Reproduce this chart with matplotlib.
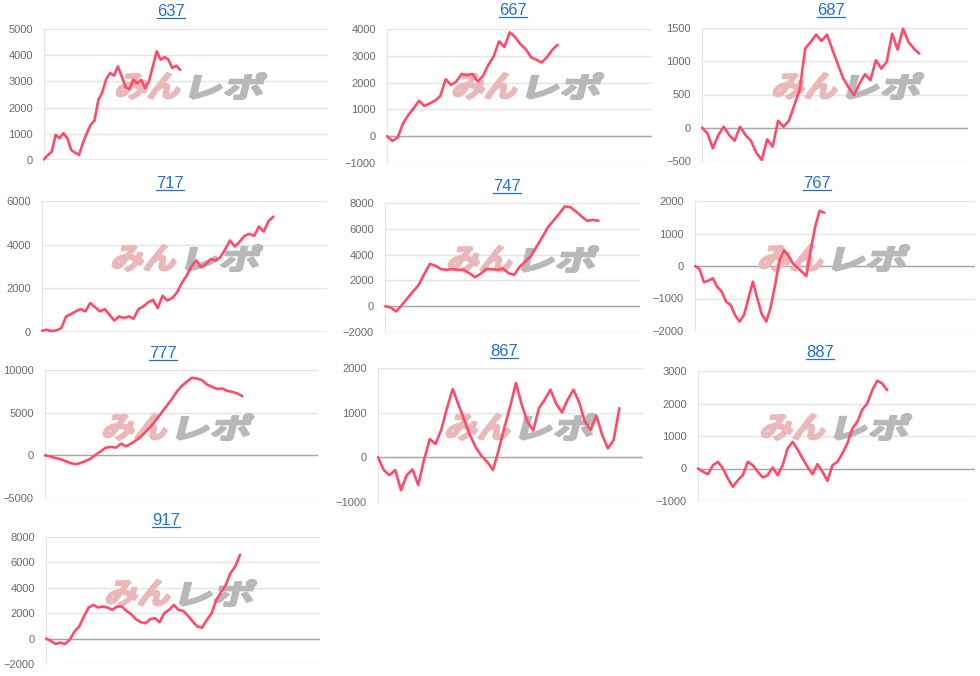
import numpy as np
import matplotlib.pyplot as plt
from matplotlib.textpath import TextPath
from matplotlib.font_manager import FontProperties
from matplotlib.patches import PathPatch
from matplotlib.transforms import Affine2D, IdentityTransform
from matplotlib.lines import Line2D

# --- data ---------------------------------------------------------------
titles = ['637', '667', '687', '717', '747', '767', '777', '867', '887', '917']

s637 = [25, 190, 320, 960, 830, 1020, 830, 380, 280, 190, 640, 1020, 1340, 1510,
        2300, 2580, 3090, 3320, 3220, 3570, 3190, 2780, 2700, 3060, 2930, 3060,
        2740, 3000, 3570, 4150, 3830, 3930, 3830, 3510, 3600, 3440]
s667 = [0, -175, -50, 475, 790, 1040, 1325, 1125, 1225, 1325, 1500, 2125, 1910,
        2040, 2325, 2275, 2325, 2040, 2250, 2660, 2975, 3540, 3325, 3875, 3700,
        3440, 3250, 2950, 2850, 2750, 2950, 3225, 3410]
s687 = [0, -85, -310, -110, 15, -110, -195, 15, -110, -195, -375, -485, -175,
        -285, 105, 15, 105, 340, 575, 1190, 1290, 1400, 1305, 1400, 1175, 955,
        740, 605, 490, 665, 805, 715, 1015, 890, 990, 1415, 1175, 1490, 1290,
        1190, 1115]
s717 = [60, 105, 45, 75, 180, 715, 820, 945, 1050, 945, 1325, 1140, 945, 1050,
        790, 520, 715, 640, 715, 610, 1050, 1170, 1355, 1475, 1095, 1660, 1445,
        1555, 1810, 2240, 2575, 3000, 3275, 2970, 3110, 3335, 3275, 3425, 3790,
        4190, 3915, 4140, 4400, 4495, 4400, 4830, 4600, 5085, 5285]
s747 = [0, -100, -410, 100, 620, 1140, 1650, 2500, 3280, 3130, 2870, 2820, 2870,
        2820, 2820, 2560, 2250, 2500, 2870, 2870, 2820, 2920, 2560, 2430, 3075,
        3460, 3900, 4625, 5350, 6120, 6640, 7160, 7730, 7675, 7340, 6950, 6615,
        6690, 6615]
s767 = [0, -90, -500, -450, -380, -640, -790, -1100, -1200, -1510, -1710, -1510,
        -1000, -480, -1000, -1480, -1710, -1270, -585, 185, 490, 310, 80, -50,
        -175, -310, 490, 1210, 1700, 1640]
s777 = [0, -120, -310, -430, -670, -900, -1060, -900, -670, -390, 80, 470, 900,
        980, 900, 1370, 1060, 1370, 1760, 2230, 2820, 3450, 4190, 4975, 5760,
        6540, 7440, 8110, 8620, 9090, 9010, 8810, 8300, 8030, 7760, 7830, 7560,
        7440, 7250, 6930]
s867 = [0, -285, -400, -285, -735, -400, -270, -620, -60, 410, 300, 615, 1100,
        1530, 1180, 840, 500, 225, 30, -100, -285, 165, 675, 1140, 1665, 1180,
        800, 600, 1100, 1290, 1515, 1200, 1005, 1290, 1515, 1230, 800, 615, 930,
        500, 200, 390, 1100]
s887 = [0, -100, -175, 100, 205, 0, -310, -565, -360, -205, 205, 100, -100, -275,
        -205, 30, -205, 100, 615, 820, 585, 310, 50, -175, 135, -100, -380, 100,
        205, 460, 770, 1230, 1435, 1815, 2000, 2410, 2700, 2615, 2410]
s917 = [0, -185, -420, -315, -420, -105, 550, 945, 1735, 2445, 2655, 2445, 2525,
        2445, 2260, 2525, 2525, 2180, 1920, 1525, 1290, 1210, 1525, 1605, 1290,
        2000, 2260, 2655, 2260, 2180, 1790, 1340, 945, 870, 1475, 2000, 3050,
        3655, 4235, 5155, 5680, 6600]

series = [s637, s667, s687, s717, s747, s767, s777, s867, s887, s917]

# y axis ranges (min, max, step)
yranges = [(0, 5000, 1000), (-1000, 4000, 1000), (-500, 1500, 500),
           (0, 6000, 2000), (-2000, 8000, 2000), (-2000, 2000, 1000),
           (-5000, 10000, 5000), (-1000, 2000, 1000), (-1000, 3000, 1000),
           (-2000, 8000, 2000)]

# --- layout (pixels, from top-left) --------------------------------------
W, H = 980, 676
boxes = [(44, 29, 328, 160), (387, 29, 652, 163), (702, 28, 968, 161),
         (42, 201, 327, 332), (385, 203, 640, 332), (695, 201, 975, 331),
         (45, 370, 318, 498), (378, 368, 643, 502), (698, 371, 975, 501),
         (46, 537, 320, 664)]
# how far along the x axis each line runs
x_frac = [0.479, 0.644, 0.817, 0.812, 0.837, 0.461, 0.723, 0.911, 0.683, 0.708]
title_pos = [(171, 16), (513, 15), (831, 15), (170, 188), (507, 191), (817, 188),
             (163, 358), (504, 356), (820, 357), (166, 525)]
wm_pos = [(191, 86), (528, 86), (848, 86), (187, 258), (523, 259), (834, 258),
          (178, 427), (521, 427), (836, 427), (181, 593)]

LINE = '#ff4b69'
TITLE = '#2271d4'
GRID = '#e4e4e4'

fig = plt.figure(figsize=(W / 100, H / 100), dpi=100)
fig.patch.set_facecolor('white')

wm_font = FontProperties(family='Noto Sans CJK JP', weight='bold')


def place_path(text, left, right, top, bottom, color, skew=14):
    p = TextPath((0, 0), text, size=40, prop=wm_font)
    e = p.get_extents()
    h = bottom - top
    w = right - left - h * np.tan(np.radians(skew))
    tr = (Affine2D().translate(-e.x0, -e.y0)
          .scale(w / e.width, h / e.height)
          .skew_deg(skew, 0)
          .translate(left, H - bottom))
    patch = PathPatch(tr.transform_path(p), facecolor=color, edgecolor=color,
                      lw=1.6, joinstyle='round',
                      transform=IdentityTransform(), zorder=2.5, clip_on=False)
    return patch


for i in range(len(series)):
    l, t, r, b = boxes[i]
    ax = fig.add_axes([l / W, 1 - b / H, (r - l) / W, (b - t) / H])
    y = series[i]
    x = np.arange(len(y))
    ax.plot(x, y, color=LINE, lw=1.9, solid_joinstyle='round',
            solid_capstyle='round', zorder=4, clip_on=False)
    lo, hi, step = yranges[i]
    ax.set_ylim(lo, hi)
    ax.set_yticks(np.arange(lo, hi + step, step))
    ax.set_xlim(0, (len(y) - 1) / x_frac[i])
    ax.set_xticks([])
    ax.set_facecolor('none')
    ax.grid(axis='y', color=GRID, lw=1)
    ax.set_axisbelow(True)
    ax.axhline(0, color='#a8a8a8', lw=1, zorder=2)
    for s in ['top', 'right', 'bottom']:
        ax.spines[s].set_visible(False)
    ax.spines['left'].set_color(GRID)
    ax.tick_params(axis='y', length=0, pad=8, labelsize=8, labelcolor='#6b6b6b')
    for lab in ax.get_yticklabels():
        lab.set_family('Liberation Sans')

    # watermark
    cx, cy = wm_pos[i]
    ax.add_artist(place_path('みん', cx - 76, cx - 7, cy - 13, cy + 13, '#eab8b8'))
    ax.add_artist(place_path('レポ', cx - 2, cx + 76, cy - 13, cy + 13, '#b8b8b8'))

    # title with underline
    tx, ty = title_pos[i]
    fig.text(tx / W, 1 - ty / H, titles[i], ha='center', va='baseline',
             fontsize=12, color=TITLE, family='Liberation Sans')

renderer = fig.canvas.get_renderer()
for txt in fig.texts:
    bb = txt.get_window_extent(renderer)
    yl = txt.get_position()[1] * H - 1.8
    fig.add_artist(Line2D([bb.x0 / W, bb.x1 / W], [yl / H, yl / H],
                          color=TITLE, lw=0.9, transform=fig.transFigure))

fig.savefig('out.png', dpi=100)
